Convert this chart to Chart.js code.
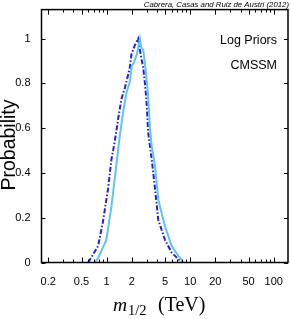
<!DOCTYPE html>
<html><head><meta charset="utf-8">
<script src="https://cdn.jsdelivr.net/npm/chart.js@4/dist/chart.umd.min.js"></script>
<style>html,body{margin:0;padding:0;background:#fff}#wrap{width:291px;height:319px}</style>
</head><body><div id="wrap"><canvas id="c" width="291" height="319"></canvas></div>
<script>
// ---- data ----
const flatX = [0.72,0.79,0.99,1.14,1.31,1.43,1.57,1.73,1.90,2.0,2.1,2.3,2.5,2.6,2.74,2.87,3.0,3.14,3.30,3.46,3.79,4.15,5.0,6.0,7.2,8.3];
const flatY = [0,0.02,0.10,0.25,0.44,0.56,0.67,0.76,0.81,0.88,0.89,0.93,1.0,0.96,0.95,0.89,0.82,0.74,0.60,0.52,0.43,0.28,0.16,0.074,0.03,0];
const logX  = [0.60,0.65,0.79,0.90,1.04,1.14,1.25,1.37,1.50,1.65,1.81,1.89,1.98,2.17,2.38,2.55,2.74,2.87,3.0,3.14,3.30,3.46,3.79,4.15,5.0,6.0,7.2,7.9];
const logY  = [0,0.02,0.074,0.18,0.33,0.46,0.54,0.64,0.73,0.78,0.84,0.87,0.93,0.97,1.0,0.93,0.87,0.80,0.72,0.58,0.52,0.46,0.33,0.19,0.10,0.044,0.015,0];
const xTickLabels = [0.2,0.5,1,2,5,10,20,50,100];
const xMinorTicks = [0.2,0.3,0.4,0.5,0.6,0.7,0.8,0.9,1,2,3,4,5,6,7,8,9,10,20,30,40,50,60,70,80,90,100];
const yTicks = [0,0.2,0.4,0.6,0.8,1];
const credit = 'Cabrera, Casas and Ruiz de Austri (2012)';
const notes = ['Log Priors','CMSSM'];
const yTitle = 'Probability';

const toPts = (xs, ys) => xs.map((x,i)=>({x, y: ys[i]}));
const SANS = '"Liberation Sans", Arial, sans-serif';
const SERIF = '"Liberation Serif", "Times New Roman", serif';

const framePlugin = {
  id: 'frame',
  afterDraw(chart) {
    const {ctx, chartArea: a, scales: {x, y}} = chart;
    ctx.save();
    ctx.strokeStyle = '#000';
    ctx.lineWidth = 1.5;
    ctx.strokeRect(a.left, a.top, a.right - a.left, a.bottom - a.top);
    ctx.lineWidth = 1;
    ctx.beginPath();
    xMinorTicks.forEach(v => {
      const px = Math.round(x.getPixelForValue(v)) + 0.5;
      const len = xTickLabels.includes(v) ? 5 : 3;
      ctx.moveTo(px, a.bottom); ctx.lineTo(px, a.bottom - len);
      ctx.moveTo(px, a.top); ctx.lineTo(px, a.top + len);
    });
    yTicks.forEach(v => {
      const py = Math.round(y.getPixelForValue(v)) + 0.5;
      ctx.moveTo(a.left, py); ctx.lineTo(a.left + 4, py);
      ctx.moveTo(a.right, py); ctx.lineTo(a.right - 4, py);
    });
    ctx.stroke();
    ctx.fillStyle = '#000';
    // credit
    ctx.font = 'italic 7.8px ' + SANS;
    ctx.textAlign = 'right'; ctx.textBaseline = 'middle';
    ctx.fillText(credit, 289, 4.5);
    // notes
    ctx.font = '12.5px ' + SANS;
    ctx.fillText(notes[0], 277, 41);
    ctx.fillText(notes[1], 277, 66);
    // y title
    ctx.save();
    ctx.translate(9.5, 145);
    ctx.rotate(-Math.PI / 2);
    ctx.textAlign = 'center'; ctx.textBaseline = 'middle';
    ctx.font = '19.5px ' + SANS;
    ctx.fillText(yTitle, 0, 0);
    ctx.restore();
    // x title: m_{1/2} (TeV)
    ctx.textAlign = 'left'; ctx.textBaseline = 'alphabetic';
    const base = 311;
    ctx.font = 'italic 19.5px ' + SERIF;
    ctx.fillText('m', 113, base);
    ctx.font = '14.5px ' + SERIF;
    ctx.fillText('1/2', 128, base + 3.5);
    ctx.font = '20px ' + SERIF;
    ctx.fillText('(TeV)', 158, base);
    ctx.restore();
  }
};

new Chart(document.getElementById('c'), {
  type: 'line',
  data: {
    datasets: [
      { label: 'flat', data: toPts(flatX, flatY), borderColor: '#5ec4f5', borderWidth: 2, pointRadius: 0, fill: false, tension: 0 },
      { label: 'log', data: toPts(logX, logY), borderColor: '#1f1fe0', borderWidth: 2, borderDash: [5,2,1.5,2], pointRadius: 0, fill: false, tension: 0 }
    ]
  },
  options: {
    responsive: false, animation: false,
    layout: { padding: { top: 9, right: 3, left: 0, bottom: 0 } },
    plugins: { legend: { display: false }, tooltip: { enabled: false } },
    scales: {
      x: {
        type: 'logarithmic', min: 0.166, max: 148,
        grid: { display: false }, border: { display: false },
        afterBuildTicks: s => { s.ticks = xMinorTicks.map(v => ({ value: v })); },
        afterFit: s => { s.height = 56.5; },
        ticks: {
          autoSkip: false, maxRotation: 0, minRotation: 0, padding: 5, color: '#000',
          font: { family: SANS, size: 11 },
          callback: v => xTickLabels.includes(v) ? String(v) : ''
        }
      },
      y: {
        min: 0, max: 1.13,
        grid: { display: false }, border: { display: false },
        afterBuildTicks: s => { s.ticks = yTicks.map(v => ({ value: v })); },
        afterFit: s => { s.width = 41.5; },
        ticks: { padding: 3, color: '#000',
          font: { family: SANS, size: 11 },
          callback: v => String(v) }
      }
    }
  },
  plugins: [framePlugin]
});
</script></body></html>
